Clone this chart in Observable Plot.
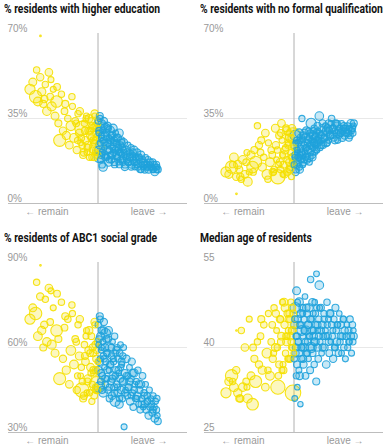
<!DOCTYPE html>
<html><head><meta charset="utf-8">
<script src="https://cdn.jsdelivr.net/npm/d3@7"></script>
<script src="https://cdn.jsdelivr.net/npm/@observablehq/plot@0.6"></script>
<style>
html,body{margin:0;padding:0;background:#fff;overflow:hidden;}
#wrap{position:relative;width:383px;height:445px;overflow:hidden;}
.panel{position:absolute;}
.title{height:16px;line-height:16px;padding-left:4px;white-space:nowrap;}
.title span{display:inline-block;font-family:Roboto,"Noto Sans",sans-serif;font-weight:700;font-size:12.5px;color:#121212;transform-origin:0 50%;}
svg{display:block;overflow:visible;}
</style></head><body><div id="wrap"></div>
<script>
// Panel titles and axis labels
const titles = ["% residents with higher education", "% residents with no formal qualifications", "% residents of ABC1 social grade", "Median age of residents"];
const tickValues = [[0, 35, 70], [0, 35, 70], [30, 60, 90], [25, 40, 55]];
const tickLabels = [["0%", "35%", "70%"], ["0%", "35%", "70%"], ["30%", "60%", "90%"], ["25", "40", "55"]];
const sideLabels = ["\u2190 remain", "leave \u2192"];
const sideAt = [30, 70];

// One entry per local authority: leave share (%), electorate (thousands)
const leave = [
  23.4,24.5,27.5,25.6,26.5,27.4,28.0,28.6,29.4,30.0, 30.8,31.3,31.9,32.5,33.2,33.8,34.5,35.0,35.7,36.3,
  36.9,37.6,38.2,38.8,39.4,40.0,40.6,41.1,41.7,42.2, 42.7,43.2,43.7,44.2,44.7,45.1,45.5,45.9,46.3,46.7,
  47.1,47.4,47.8,48.1,48.4,48.7,49.0,49.3,49.6,49.8,
  43.5,44.5,45.3,46.1,46.9,47.6,48.2,48.9,49.4,49.9,
  50.1,50.2,50.3,50.5,50.7,50.9,51.0,51.1,51.3,51.5, 51.7,51.9,52.0,52.1,52.3,52.5,52.7,52.9,53.0,53.1,
  53.3,53.5,53.7,53.9,54.1,54.3,54.5,54.7,54.9,55.1, 55.3,55.5,55.7,55.9,56.1,56.3,56.5,56.7,56.9,57.1,
  57.3,57.5,57.7,57.9,58.1,58.3,58.5,58.7,58.9,59.1, 59.3,59.5,59.7,59.9,60.2,60.5,60.8,61.1,61.4,61.7,
  62.0,62.3,62.6,62.9,63.2,63.5,63.8,64.1,64.4,64.7, 65.0,65.3,65.6,65.9,66.2,66.5,66.8,67.1,67.4,67.7,
  68.0,68.3,68.6,68.9,69.2,69.5,69.8,70.1,70.4,70.7, 71.0,71.3,71.6,71.9,72.2,72.5,72.8,73.0,73.2,73.4,
  41.5,42.0,42.9,43.9,44.9,45.7,46.5,47.3,47.9,48.5, 48.8,49.2,49.5,49.7,39.8,37.2,34.0,31.6,29.0,26.0,
  50.4,50.6,50.8,51.2,51.4,51.6,52.2,52.4,52.8,53.4, 53.6,54.0,54.4,54.8,55.2,55.6,56.0,56.4,56.8,57.2,
  57.6,58.0,58.4,58.8,59.2,59.6,60.0,60.6,61.2,61.8, 62.4,63.0,63.6,64.2,65.2,66.0,66.9,68.2,69.4,71.5
];
const electorate = [
  230,140,6,340,170,120,150,110,90,160, 130,100,180,80,140,300,110,320,90,120,
  100,150,95,130,210,85,170,100,120,90, 140,75,450,110,95,130,80,105,120,90,
  140,100,85,115,95,125,80,110,540,100,
  90,120,80,140,100,85,110,95,130,75,
  90,130,75,250,110,85,140,95,70,120, 100,80,160,90,115,65,135,95,210,85,
  105,75,120,90,140,70,100,180,85,110, 95,125,70,150,85,105,90,230,75,115,
  100,80,130,90,70,145,95,110,85,120, 75,100,90,165,80,110,70,125,95,85,
  105,75,130,90,115,80,100,140,70,95, 85,120,90,75,110,95,130,80,100,70,
  90,115,75,105,85,95,120,80,100,70, 85,110,75,95,130,80,100,90,70,105,
  100,85,120,95,110,80,135,90,115,100, 85,125,95,105,90,110,100,80,120,90,
  95,120,85,110,75,100,130,90,105,80, 115,95,85,125,90,110,80,100,95,120,
  85,105,90,75,110,95,80,100,115,90, 105,85,120,95,80,110,90,100,85,95
];
const higherEd = [
  47,50,69,44,42,52,46,41,49,38, 54,44,40,47,36,42,33,26,45,30,
  38,28,35,24,32,40,27,34,22,37, 29,25,31,20,33,26,36,23,30,19,
  28,34,22,31,25,37,21,29,23,33,
  27,21,35,24,30,19,26,32,22,28,
  34,22,29,19,36,25,31,18,27,33, 21,30,15,26,34,23,28,20,31,24,
  29,19,32,25,17,27,22,30,20,26, 18,28,23,31,21,26,16,24,29,20,
  25,19,27,22,17,29,21,24,18,26, 20,23,17,25,21,15,19,22,18,24,
  17,21,19,23,16,20,18,22,15,19, 17,21,15,19,18,14,20,16,18,15,
  17,14,19,16,15,18,14,16,17,15, 15,17,14,16,13,15,16,14,15,14,
  33,26,38,24,30,21,35,27,32,19, 36,26,31,20,44,41,48,51,43,55,
  30,24,35,20,28,16,32,25,19,27, 22,31,18,24,28,20,25,17,22,27,
  19,23,16,21,25,18,22,16,20,17, 19,15,21,17,16,19,14,16,15,14
];
const noQual = [
  13,12,4,15,19,11,16,14,10,18, 12,17,9,13,20,15,22,17,32,24,
  21,15,19,29,12,25,17,22,13,14, 31,18,11,28,14,33,20,16,12,23,
  30,13,25,17,29,15,11,19,28,16,
  22,17,26,20,31,24,14,27,19,23,
  16,24,19,28,14,22,18,26,21,17, 25,19,29,15,23,20,27,18,22,35,
  20,26,17,24,29,21,19,27,23,18, 25,22,30,19,27,24,21,33,26,20,
  28,23,25,31,21,27,24,29,22,26, 30,25,27,36,23,28,26,31,24,29,
  27,32,25,29,31,26,30,28,33,35, 28,31,27,30,33,29,32,26,30,28,
  31,29,33,27,30,32,28,31,29,30, 32,29,31,28,33,30,31,29,32,33,
  20,13,24,16,29,12,22,18,27,14, 21,31,17,24,10,26,13,21,11,16,
  20,13,25,16,22,19,14,26,21,16, 28,18,23,30,20,26,17,29,24,19,
  30,25,28,22,32,26,29,24,33,27, 30,25,33,28,31,26,33,29,31,27
];
const abc1 = [
  70,74,89,72,64,78,66,60,77,62, 81,69,61,74,58,66,63,49,76,56,
  67,52,70,47,59,72,54,63,45,68, 57,50,45,42,61,55,66,48,59,44,
  53,64,47,58,51,69,46,56,47,62,
  53,43,64,49,58,41,52,61,45,55,
  68,52,61,46,71,56,64,48,59,66, 50,62,44,57,69,53,60,47,65,55,
  63,49,58,45,66,52,42,60,54,48, 57,43,62,50,55,46,64,41,58,52,
  47,60,44,56,51,40,58,49,53,45, 54,42,57,48,32,51,45,56,43,50,
  46,53,41,49,55,44,39,51,47,42, 48,43,52,40,45,38,47,42,50,39,
  44,40,47,38,43,41,36,45,39,42, 40,37,43,39,35,41,38,42,36,34,
  62,50,70,48,57,44,66,51,60,43, 68,52,59,45,75,71,79,80,68,83,
  63,55,70,51,60,45,66,56,49,58, 52,63,46,54,60,49,56,44,50,59,
  46,52,42,61,55,48,60,44,50,46, 48,43,51,45,42,47,40,43,41,38
];
const medianAge = [
  32,34,43,35,33,36,32,31,43,33, 40,34,31,45,35,30,38,34,41,37,
  42,36,44,33,39,46,35,41,38,47, 40,43,33,37,45,42,48,36,44,39,
  41,46,43,38,45,42,40,47,32,44,
  40,45,36,48,42,38,46,41,43,39,
  38,44,31,47,40,35,50,42,33,45, 41,36,48,39,44,30,46,38,43,40,
  47,42,37,45,40,49,35,43,39,46, 41,44,38,47,42,36,52,40,45,43,
  39,46,42,37,48,41,44,34,47,40, 43,38,45,51,41,47,39,44,42,46,
  40,43,37,48,42,45,39,46,41,44, 42,38,45,40,47,43,41,44,39,46,
  41,44,39,42,45,40,43,38,42,44, 40,43,41,45,42,39,44,41,43,42,
  44,39,46,35,41,37,47,42,45,38, 48,43,40,46,36,45,40,33,31,34,
  45,39,42,37,48,41,35,44,40,46, 38,43,41,47,39,44,42,45,40,48,
  43,41,46,53,44,42,47,43,40,45, 42,44,41,46,43,40,44,42,45,41
];

const series = [higherEd, noQual, abc1, medianAge];
const yellow = "#f5e000", blue = "#1fa2dc";
const font = "'Liberation Sans','Open Sans',sans-serif";
const spots = [[0, 0, 190], [196, 0, 187], [0, 229, 190], [196, 229, 187]];
const wrap = document.getElementById("wrap");
const spans = [];

series.forEach((vals, p) => {
  const [left, top, w] = spots[p];
  const ticks = tickValues[p];
  const yDomain = [ticks[0], ticks[2]];
  const xDomain = [15, 85];
  const data = leave.map((l, i) => ({leave: l, electorate: electorate[i], v: vals[i], side: l < 50 ? "remain" : "leave"}));
  const tickRows = ticks.map((t, i) => ({t, label: tickLabels[p][i]}));
  const sideRows = sideLabels.map((s, i) => ({s, at: sideAt[i]}));
  const chart = Plot.plot({
    width: w, height: 203,
    marginTop: 17, marginBottom: 16, marginLeft: 8, marginRight: w - 187,
    style: {fontFamily: font, fontSize: "10px", background: "transparent"},
    x: {domain: xDomain, axis: null},
    y: {domain: yDomain, axis: null},
    r: {type: "sqrt", domain: [0, 720], range: [0, 9]},
    color: {domain: ["remain", "leave"], range: [yellow, blue]},
    marks: [
      Plot.ruleY([ticks[1]], {stroke: "#e8e8e8", strokeWidth: 1}),
      Plot.ruleY([ticks[0]], {stroke: "#bdbdbd", strokeWidth: 1}),
      Plot.ruleX([50], {y1: yDomain[0], y2: yDomain[1], stroke: "#b0b0b0", strokeWidth: 1}),
      Plot.dot(data, {x: "leave", y: "v", r: "electorate", stroke: "side", fill: "side", fillOpacity: 0.25, strokeWidth: 1.1, strokeOpacity: 0.9}),
      Plot.text(tickRows, {x: () => xDomain[0], y: "t", text: "label", textAnchor: "start", dx: -1, dy: -5, fill: "#999"}),
      Plot.text(sideRows, {x: "at", y: () => yDomain[0], text: "s", dy: 8, fill: "#999"})
    ]
  });
  const div = document.createElement("div");
  div.className = "panel";
  div.style.left = left + "px";
  div.style.top = top + "px";
  div.style.width = w + "px";
  const t = document.createElement("div");
  t.className = "title";
  const s = document.createElement("span");
  s.textContent = titles[p];
  t.appendChild(s);
  spans.push(s);
  div.appendChild(t);
  div.appendChild(chart);
  wrap.appendChild(div);
});
// condense titles so the first one spans the same width as in the reference
const k = 156 / spans[0].getBoundingClientRect().width;
spans.forEach(s => { s.style.transform = `scaleX(${k})`; });
</script></body></html>
